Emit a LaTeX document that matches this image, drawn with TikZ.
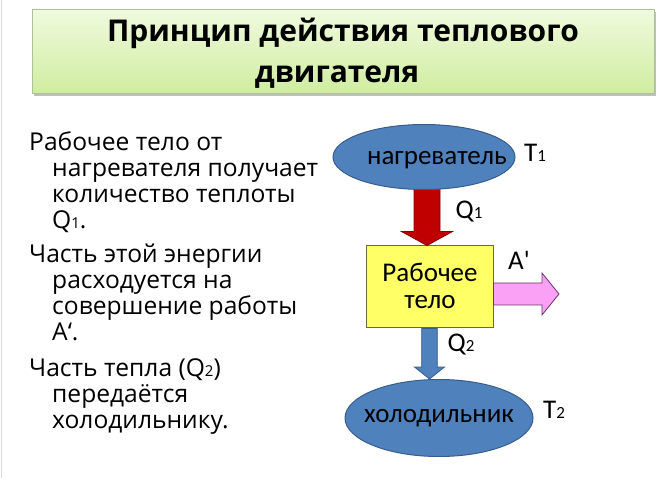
\documentclass[tikz,border=0pt]{standalone}
\usepackage{fontspec}
\setmainfont{Open Sans}
\newfontfamily\calfont{Carlito}
\usetikzlibrary{shapes.geometric,calc}
\definecolor{titletop}{RGB}{240,250,222}
\definecolor{titlebot}{RGB}{208,237,160}
\definecolor{titleedge}{RGB}{175,192,150}
\definecolor{ellblue}{RGB}{79,129,189}
\definecolor{elledge}{RGB}{56,93,138}
\definecolor{arrred}{RGB}{192,0,0}
\definecolor{arrrededge}{RGB}{130,0,0}
\definecolor{boxyellow}{RGB}{255,255,102}
\definecolor{boxedge}{RGB}{110,105,60}
\definecolor{arrpink}{RGB}{250,160,245}
\definecolor{pinkedge}{RGB}{110,50,110}
\tikzset{
  bodyline/.style={anchor=base west,inner sep=0pt,font=\fontsize{24.6}{26}\selectfont},
  lbl/.style={inner sep=0pt,font=\calfont\fontsize{27}{27}\selectfont},
  ellnode/.style={ellipse,draw=elledge,fill=ellblue,line width=1pt,inner sep=0pt},
}
\newcommand{\sbs}[1]{{\fontsize{15}{15}\selectfont #1}}
\newcommand{\lsbs}[1]{{\fontsize{17}{17}\selectfont #1}}
\begin{document}
\begin{tikzpicture}[x=1pt,y=-1pt]
\useasboundingbox (0,0) rectangle (664,478);
\fill[white] (0,0) rectangle (664,478);
\draw[black!14,line width=1pt] (1.5,0) -- (1.5,478);
% title
\fill[black!25] (34,12) rectangle (656,96);
\shade[top color=titletop,bottom color=titlebot] (32,9.5) rectangle (654,93);
\draw[titleedge,line width=0.8pt] (32,9.5) rectangle (654,93);
\node[inner sep=0pt,anchor=base,font=\bfseries\fontsize{30}{30}\selectfont] (t1) at (343,42) {Принцип действия теплового};
\node[inner sep=0pt,anchor=base,font=\bfseries\fontsize{30}{30}\selectfont] (t2) at (337,83) {двигателя};
% body text
\node[bodyline] (b1) at (29,151) {Рабочее тело от};
\node[bodyline] (b2) at (52,177) {нагревателя получает};
\node[bodyline] (b3) at (52,203) {количество теплоты};
\node[bodyline] (b4) at (52,229) {Q\sbs{1}.};
\node[bodyline] (b5) at (29,263) {Часть этой энергии};
\node[bodyline] (b6) at (52,289) {расходуется на};
\node[bodyline] (b7) at (52,315) {совершение работы};
\node[bodyline] (b8) at (52,341) {А‘.};
\node[bodyline] (b9) at (29,376) {Часть тепла (Q\sbs{2})};
\node[bodyline] (b10) at (52,402) {передаётся};
\node[bodyline] (b11) at (52,428) {холодильнику.};
% diagram nodes
\node[draw=boxedge,fill=boxyellow,line width=1pt,minimum width=127pt,minimum height=82pt,inner sep=0pt] (body) at (429.5,287) {};
\coordinate (rtop) at (427,180);
\coordinate (btop) at (429.5,328);
\coordinate (pend) at (559,294);
% red arrow
\draw[draw=arrrededge,fill=arrred,line width=0.8pt]
  ($(rtop)+(-13,0)$) -- ($(rtop)+(13,0)$) -- ($(body.north -| rtop)+(13,-14)$) -- ($(body.north -| rtop)+(25.5,-14)$)
  -- (body.north -| rtop) -- ($(body.north -| rtop)+(-25.5,-14)$) -- ($(body.north -| rtop)+(-13,-14)$) -- cycle;
\node[ellnode,minimum width=182pt,minimum height=65pt] (heater) at (424,157) {};
\node[lbl] (heatertxt) at (437,160) {нагреватель};
% pink arrow
\draw[draw=pinkedge,fill=arrpink,line width=0.8pt]
  ($(body.east |- pend)+(0,-11)$) -- ($(pend)+(-17,-11)$) -- ($(pend)+(-17,-21)$) -- (pend)
  -- ($(pend)+(-17,21)$) -- ($(pend)+(-17,11)$) -- ($(body.east |- pend)+(0,11)$) -- cycle;
% cooler
\node[ellnode,minimum width=188pt,minimum height=77pt] (cooler) at (439,418) {};
\node[lbl] (coolertxt) at (439,418) {холодильник};
% blue arrow
\draw[draw=elledge,fill=ellblue,line width=0.8pt]
  ($(body.south -| btop)+(-7.8,0)$) -- ($(body.south -| btop)+(7.8,0)$) -- ($(cooler.north -| btop)+(7.8,-12)$)
  -- ($(cooler.north -| btop)+(15,-12)$) -- (cooler.north -| btop) -- ($(cooler.north -| btop)+(-15,-12)$)
  -- ($(cooler.north -| btop)+(-7.8,-12)$) -- cycle;
% box text
\node[lbl] (bodytxt1) at (430,272) {Рабочее};
\node[lbl] (bodytxt2) at (430,302) {тело};
% labels
\node[lbl] (T1) at (535,153) {T\lsbs{1}};
\node[lbl] (Q1) at (469,212) {Q\lsbs{1}};
\node[lbl] (Ap) at (519,260) {A'};
\node[lbl] (Q2) at (461,345) {Q\lsbs{2}};
\node[lbl] (T2) at (554,410) {T\lsbs{2}};
\end{tikzpicture}
\end{document}
